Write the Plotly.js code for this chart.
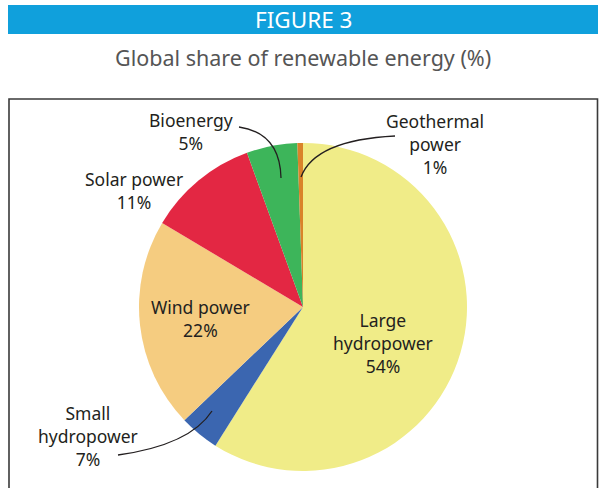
<!DOCTYPE html>
<html>
<head>
<meta charset="utf-8">
<script src="https://cdn.plot.ly/plotly-3.0.1.min.js"></script>
<style>
html,body{margin:0;padding:0;background:#fff;}
#chart{width:600px;height:488px;}
</style>
</head>
<body>
<div id="chart"></div>
<script>
// Data
const categories = ["Large hydropower", "Small hydropower", "Wind power", "Solar power", "Bioenergy", "Geothermal power"];
const sliceValues = [59.0, 3.9, 20.7, 10.9, 5.0, 0.55];   // angular sizes as drawn
const statedShares = ["54%", "7%", "22%", "11%", "5%", "1%"]; // percentages printed on the figure
const labelLines = [["Large", "hydropower"], ["Small", "hydropower"], ["Wind power"], ["Solar power"], ["Bioenergy"], ["Geothermal", "power"]];
const sliceColors = ["#f0ec88", "#3b66b0", "#f5cc80", "#e32743", "#3db55a", "#d9832a"];
const figureTag = "FIGURE 3";
const chartTitle = "Global share of renewable energy (%)";

const W = 600, H = 488;
const px = x => x / W;
const py = y => 1 - y / H;

// pie geometry (pixels)
const cx = 303, cy = 307, r = 164;

// label anchor positions (pixels, centre of text block)
const labelPos = [[383, 343], [88, 436], [200, 318], [134, 190], [191, 132], [435, 144]];

const annotations = [];
categories.forEach((c, i) => {
  const txt = labelLines[i].concat([statedShares[i]]).join("<br>");
  annotations.push({
    xref: "paper", yref: "paper",
    x: px(labelPos[i][0]), y: py(labelPos[i][1]),
    xanchor: "center", yanchor: "middle",
    text: txt, showarrow: false, align: "center",
    font: {family: "Noto Sans, Open Sans, sans-serif", size: 17.5, color: "#231f20"}
  });
});
annotations.push({
  xref: "paper", yref: "paper", x: px(303), y: py(19.5),
  xanchor: "center", yanchor: "middle", showarrow: false,
  text: figureTag,
  font: {family: "Noto Sans, Open Sans, sans-serif", size: 22.5, color: "#ffffff"}
});
annotations.push({
  xref: "paper", yref: "paper", x: px(303), y: py(58),
  xanchor: "center", yanchor: "middle", showarrow: false,
  text: chartTitle,
  font: {family: "Noto Sans, Open Sans, sans-serif", size: 21.5, color: "#555555"}
});

function qpath(p0, c, p1) {
  return "M " + px(p0[0]) + "," + py(p0[1]) + " Q " + px(c[0]) + "," + py(c[1]) + " " + px(p1[0]) + "," + py(p1[1]);
}

const shapes = [
  {type: "rect", xref: "paper", yref: "paper", x0: px(8), x1: px(598), y0: py(34), y1: py(5),
   fillcolor: "#10a0dc", line: {width: 0}, layer: "below"},
  {type: "rect", xref: "paper", yref: "paper", x0: px(9), x1: px(597.5), y0: py(495), y1: py(99),
   fillcolor: "rgba(0,0,0,0)", line: {color: "#3a3a3a", width: 1.6}, layer: "below"},
  {type: "path", xref: "paper", yref: "paper", path: qpath([239, 127], [280, 133], [281, 178]),
   line: {color: "#231f20", width: 1.3}},
  {type: "path", xref: "paper", yref: "paper", path: qpath([395, 136], [315, 140], [301, 177]),
   line: {color: "#231f20", width: 1.3}},
  {type: "path", xref: "paper", yref: "paper", path: qpath([118, 455], [190, 445], [212, 411]),
   line: {color: "#231f20", width: 1.3}}
];

const trace = {
  type: "pie",
  labels: categories,
  values: sliceValues,
  sort: false,
  direction: "clockwise",
  rotation: 0,
  textinfo: "none",
  hoverinfo: "label",
  marker: {colors: sliceColors, line: {width: 0}},
  domain: {x: [px(cx - r), px(cx + r)], y: [py(cy + r), py(cy - r)]},
  showlegend: false
};

Plotly.newPlot("chart", [trace], {
  width: W, height: H,
  margin: {l: 0, r: 0, t: 0, b: 0},
  paper_bgcolor: "#ffffff",
  showlegend: false,
  annotations: annotations,
  shapes: shapes
}, {staticPlot: true, displayModeBar: false});
</script>
</body>
</html>
